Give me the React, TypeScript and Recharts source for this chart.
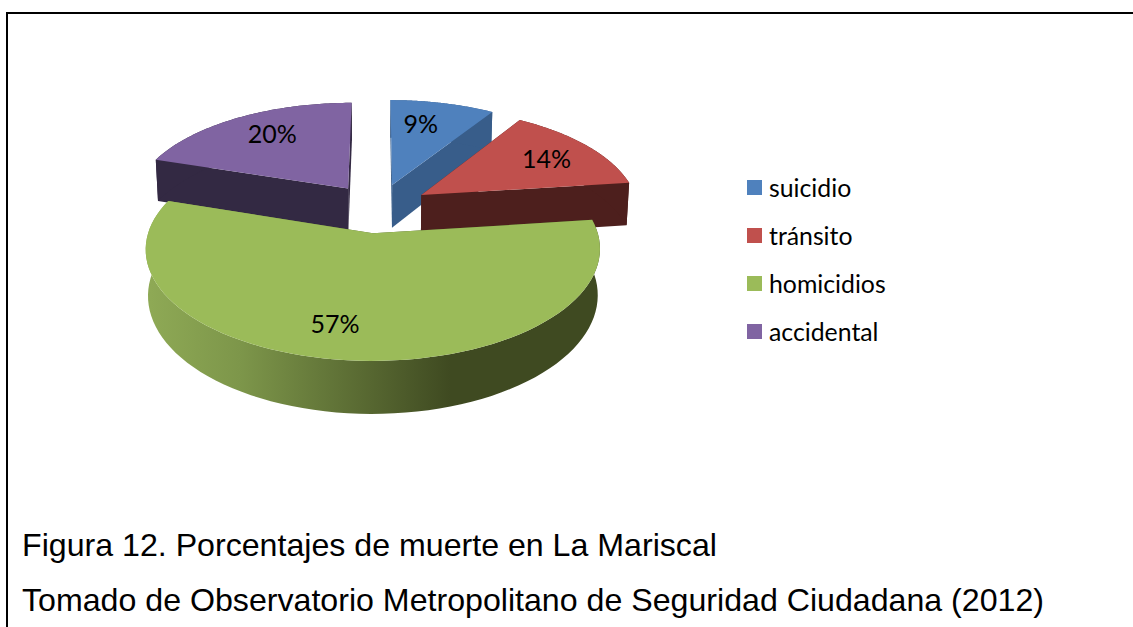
import React from "react";
import { PieChart, Pie, Legend } from "recharts";

const legendOrder = ["suicidio", "tránsito", "homicidios", "accidental"];
// Drawn back to front, so homicidios comes last and covers the other walls.
const categories = ["accidental", "suicidio", "tránsito", "homicidios"];
const values = [20, 9, 14, 57];
const topColors = ["#8064a2", "#4f81bd", "#c0504d", "#9bbb59"];
const sideColors = ["#332943", "#385d8a", "#4d1f1d", "url(#greenWall)"];
const captions = [
  "Figura 12. Porcentajes de muerte en La Mariscal",
  "Tomado de Observatorio Metropolitano de Seguridad Ciudadana (2012)",
];

const rows = categories.map((name, i) => ({
  name,
  value: values[i],
  fill: topColors[i],
  side: sideColors[i],
}));

const TILT = 102 / 216.5;
const PERSPECTIVE = 0.137;
const EXPLODE = 0.24;
const DEPTH = 44;
const RAD = Math.PI / 180;
const LABEL_FONT = "Lato, Carlito, sans-serif";
const labelShift: Record<string, [number, number]> = {
  suicidio: [-8, -3],
  "tránsito": [7, -2],
  homicidios: [-21, 5],
  accidental: [3, -4],
};

function project(cx: number, cy: number, R: number, mid: number, angle: number, r: number, lower = false) {
  const mClock = (90 - mid) * RAD;
  const aClock = (90 - angle) * RAD;
  const px = EXPLODE * Math.sin(mClock) + r * Math.sin(aClock);
  const py = -EXPLODE * Math.cos(mClock) - r * Math.cos(aClock);
  const s = 1 / (1 - PERSPECTIVE * py);
  const x = cx + R * px * s;
  const y = cy + R * TILT * py * s;
  return lower ? { x: cx + (x - cx) * 0.99, y: y + DEPTH * s } : { x, y };
}

const toPath = (pts: { x: number; y: number }[]) =>
  "M" + pts.map((p) => `${p.x.toFixed(2)},${p.y.toFixed(2)}`).join("L") + "Z";

function Slice3D(props: any) {
  const { cx, cy, outerRadius: R, startAngle, endAngle, midAngle, fill, side } = props;
  const n = 80;
  const up: { x: number; y: number }[] = [];
  const low: { x: number; y: number }[] = [];
  for (let i = 0; i <= n; i++) {
    const a = startAngle + ((endAngle - startAngle) * i) / n;
    up.push(project(cx, cy, R, midAngle, a, 1));
    low.push(project(cx, cy, R, midAngle, a, 1, true));
  }
  const tip = project(cx, cy, R, midAngle, midAngle, 0);
  const tipLow = project(cx, cy, R, midAngle, midAngle, 0, true);
  const cutFace = (edge: number) => {
    const a = project(cx, cy, R, midAngle, edge, 1);
    const b = project(cx, cy, R, midAngle, edge, 1, true);
    return toPath([tip, a, b, tipLow]);
  };
  const wallFill = side;
  return (
    <g>
      <defs>
        <linearGradient id="greenWall" gradientUnits="userSpaceOnUse" x1="150" y1="0" x2="450" y2="0">
          <stop offset="0" stopColor="#8ea955" />
          <stop offset="0.3" stopColor="#7d964a" />
          <stop offset="1" stopColor="#3f4a21" />
        </linearGradient>
      </defs>
      <path d={cutFace(startAngle)} fill={wallFill} />
      <path d={cutFace(endAngle)} fill={wallFill} />
      <path d={toPath([...up, ...low.slice().reverse()])} fill={wallFill} />
      <path d={toPath([tip, ...up])} fill={fill} />
    </g>
  );
}

function SliceLabel(props: any) {
  const { cx, cy, outerRadius: R, midAngle, value, name } = props;
  const p = project(cx, cy, R, midAngle, midAngle, 0.7);
  const [dx, dy] = labelShift[name] ?? [0, 0];
  return (
    <text
      x={p.x + dx}
      y={p.y + dy}
      textAnchor="middle"
      dominantBaseline="central"
      fontFamily={LABEL_FONT}
      fontSize={25}
      fill="#000"
    >
      {value}%
    </text>
  );
}

function LegendList(props: any) {
  const items = [...(props.payload ?? [])].sort(
    (a: any, b: any) => legendOrder.indexOf(a.value) - legendOrder.indexOf(b.value),
  );
  return (
    <div>
      {items.map((it: any) => (
        <div key={it.value} style={{ height: 48, display: "flex", alignItems: "center" }}>
          <span style={{ width: 15, height: 15, background: it.color, marginRight: 7, flex: "none" }} />
          <span style={{ fontFamily: LABEL_FONT, fontSize: 24.8, color: "#000", whiteSpace: "nowrap" }}>{it.value}</span>
        </div>
      ))}
    </div>
  );
}

export default function App() {
  return (
    <div style={{ position: "absolute", left: 0, top: 0, width: 1133, height: 627, background: "#fff", overflow: "hidden" }}>
      <div style={{ position: "absolute", left: 6, top: 12, width: 1127, height: 2, background: "#000" }} />
      <div style={{ position: "absolute", left: 6, top: 12, width: 2, height: 615, background: "#000" }} />
      <PieChart width={1133} height={627} margin={{ top: 0, right: 0, bottom: 0, left: 0 }} style={{ position: "absolute", left: 0, top: 0 }}>
        <Pie
          data={rows}
          dataKey="value"
          nameKey="name"
          cx={378}
          cy={208}
          outerRadius={217.5}
          startAngle={162}
          endAngle={-198}
          stroke="none"
          isAnimationActive={false}
          labelLine={false}
          label={SliceLabel}
          shape={Slice3D}
        />
        <Legend
          content={<LegendList />}
          layout="vertical"
          wrapperStyle={{ position: "absolute", left: 747, top: 163, width: 180, height: 192, bottom: "auto", right: "auto" }}
        />
      </PieChart>
      {captions.map((c, i) => (
        <div
          key={c}
          style={{
            position: "absolute",
            left: 22,
            top: 525 + i * 55,
            fontFamily: "'Liberation Sans', Arial, sans-serif",
            fontSize: 32.15,
            lineHeight: "40px",
            color: "#000",
            whiteSpace: "nowrap",
          }}
        >
          {c}
        </div>
      ))}
    </div>
  );
}
